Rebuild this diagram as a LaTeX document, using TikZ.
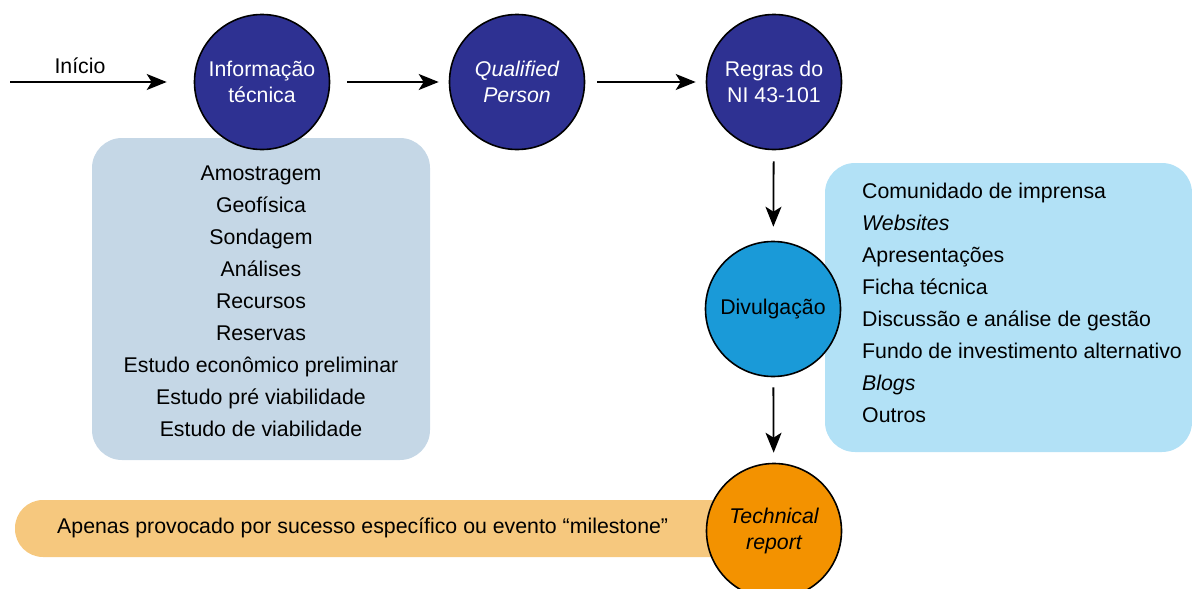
\documentclass[tikz,border=0pt]{standalone}
\usepackage{fontspec}
\setmainfont{Liberation Sans}
\usetikzlibrary{arrows.meta}
\definecolor{navy}{HTML}{2E3192}
\definecolor{divblue}{HTML}{1A9AD8}
\definecolor{techorange}{HTML}{F39200}
\definecolor{listgray}{HTML}{C5D7E6}
\definecolor{listblue}{HTML}{B2E1F6}
\definecolor{barorange}{HTML}{F6C87E}
\tikzset{
  stage/.style={circle, draw=black, line width=1.6pt, minimum size=135pt, inner sep=0pt,
    align=center, font=\fontsize{21.3}{26}\selectfont},
  darkstage/.style={stage, fill=navy, text=white},
  flow/.style={line width=1.8pt, -{Stealth[length=20pt,width=16pt,inset=5pt]}},
  listbox/.style={rounded corners=30pt},
  listtext/.style={font=\fontsize{21.3}{32}\selectfont, inner sep=0pt}
}
\begin{document}
\begin{tikzpicture}[x=1pt,y=-1pt]
  \useasboundingbox (0,0) rectangle (1192,589);
  % background panels
  \fill[listgray, listbox] (92,138) rectangle (430,460);
  \fill[listblue, listbox] (825,163) rectangle (1192,452);
  \fill[barorange, rounded corners=28pt] (15,500) rectangle (740,557);
  % list contents
  \node[listtext, align=center] (techlist) at (261,301) {Amostragem\\Geofísica\\Sondagem\\Análises\\Recursos\\Reservas\\Estudo econômico preliminar\\Estudo pré viabilidade\\Estudo de viabilidade};
  \node[listtext, align=left, anchor=west] (medialist) at (862,303) {Comunidado de imprensa\\\textit{Websites}\\Apresentações\\Ficha técnica\\Discussão e análise de gestão\\Fundo de investimento alternativo\\\textit{Blogs}\\Outros};
  \node[font=\fontsize{21.3}{26}\selectfont, anchor=west, inner sep=0pt] (trigger) at (57,528) {Apenas provocado por sucesso específico ou evento “milestone”};
  % stages
  \node[darkstage] (info) at (262,82) {Informação\\técnica};
  \node[darkstage] (qp) at (517,82) {\itshape Qualified\\\itshape Person};
  \node[darkstage] (rules) at (774,82) {Regras do\\NI 43-101};
  \node[stage, fill=divblue, text=black] (div) at (773,309) {Divulgação};
  \node[stage, fill=techorange, text=black] (tech) at (774,531) {\itshape Technical\\\itshape report};
  % connectors
  \coordinate (start) at (10,82);
  \node[font=\fontsize{21.3}{26}\selectfont, inner sep=0pt] (startlabel) at (80,66) {Início};
  \draw[flow, shorten >=27pt] (start) -- (info);
  \draw[flow, shorten <=17pt, shorten >=10pt] (info) -- (qp);
  \draw[flow, shorten <=12pt, shorten >=10pt] (qp) -- (rules);
  \draw[flow, shorten <=11pt, shorten >=14pt] (rules) -- (div);
  \draw[flow, shorten <=10pt, shorten >=10pt] (div) -- (tech);
\end{tikzpicture}
\end{document}
